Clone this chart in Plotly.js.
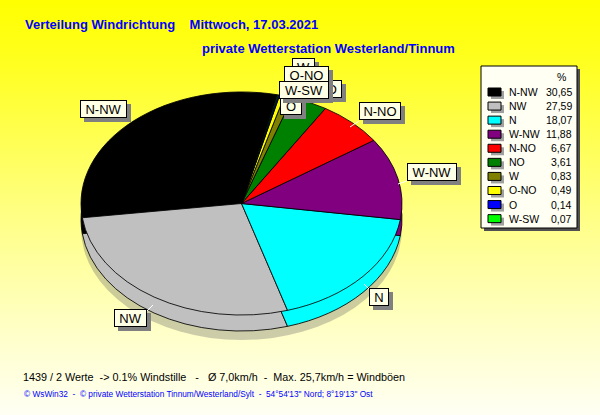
<!DOCTYPE html>
<html><head><meta charset="utf-8">
<script src="https://cdn.plot.ly/plotly-3.0.1.min.js"></script>
<style>
html,body{margin:0;padding:0;background:#fffff0;}
#chart{width:600px;height:415px;background:linear-gradient(to bottom,#ffff00 0%,#ffff20 15%,#ffff80 50%,#ffffc8 80%,#fffff4 100%);}
#chart .pielayer{transform-origin:241.5px 203.5px;transform:scaleY(0.695);}
</style></head><body><div id="chart"></div>
<script>
// ---- data ----
const directions = ['N-NW','NW','N','W-NW','N-NO','NO','W','O-NO','O','W-SW'];
const percents   = [30.65, 27.59, 18.07, 11.88, 6.67, 3.61, 0.83, 0.49, 0.14, 0.07];
const colors     = ['#000000','#c0c0c0','#00ffff','#800080','#ff0000','#008000','#808000','#ffff00','#0000ff','#00ff00'];
const valueLabels = percents.map(v => v.toFixed(2).replace('.', ','));

const titleText = 'Verteilung Windrichtung\u00a0\u00a0\u00a0 Mittwoch, 17.03.2021';
const subtitleText = 'private Wetterstation Westerland/Tinnum';
const infoText = '1439 / 2 Werte\u00a0 -> 0.1% Windstille\u00a0\u00a0 -\u00a0\u00a0 Ø 7,0km/h\u00a0 -\u00a0 Max. 25,7km/h = Windböen';
const footText = '© WsWin32\u00a0 -\u00a0 © private Wetterstation Tinnum/Westerland/Sylt\u00a0 -\u00a0 54°54\'13" Nord; 8°19\'13" Ost';

// ---- layout helpers (pixel geometry) ----
const W = 600, H = 415;
const cx = 241.5, cy = 203.5, R = 160.5;
const px = x => x / W, py = y => 1 - y / H;
function dom(off) {
  return { x: [px(cx - R), px(cx + R)], y: [py(cy + R + off), py(cy - R + off)] };
}
// first slice ends (clockwise side) 13 degrees right of 12 o'clock
const startAngle = 13;

// callout label positions (centre px, width)
const calloutPos = {
  'N-NW': [103.5, 109, 43], 'NW': [130.5, 318, 29], 'N': [379, 297, 16],
  'W-NW': [432, 171.5, 46], 'N-NO': [380, 111.5, 38],
  'W': [303.5, 67, 19], 'NO': [327, 88.5, 26], 'O-NO': [306.5, 75.5, 41],
  'O': [291, 106, 18], 'W-SW': [304, 90, 46]
};
const calloutOrder = ['N-NW','NW','N','W-NW','N-NO','W','NO','O-NO','O','W-SW'];

const pieBase = {
  type: 'pie', labels: directions, values: percents, sort: false,
  direction: 'counterclockwise', rotation: startAngle - percents[0] * 3.6, textinfo: 'none',
  hoverinfo: 'skip', showlegend: false,
  marker: { colors: colors, line: { color: '#000', width: 1 } }
};
const traces = [
  { type: 'pie', values: [1], labels: ['s'], sort: false, textinfo: 'none', hoverinfo: 'skip',
    showlegend: false, domain: dom(36),
    marker: { colors: ['rgba(110,110,110,0.35)'], line: { width: 0 } } },
  Object.assign({}, pieBase, { domain: dom(23) }),
  Object.assign({}, pieBase, { domain: dom(0) })
];

const font = 'Liberation Sans, Arial, sans-serif';
const annotations = [];
const shapes = [];
function txt(x, y, text, f, xa, ya) {
  annotations.push({ xref:'paper', yref:'paper', x: px(x), y: py(y), xanchor: xa || 'left', yanchor: ya || 'middle',
    showarrow:false, text: text, font: f });
}

// titles
txt(23, 25, '<b>'+titleText+'</b>', {family:font, size:13, color:'#0000ff'});
txt(200, 49, '<b>'+subtitleText+'</b>', {family:font, size:13, color:'#0000ff'});
txt(21, 377, infoText, {family:font, size:10.8, color:'#000'});
txt(22, 394, footText, {family:font, size:8.3, color:'#0000ff'});

// leader lines (white)
const leaders = [[147,311,153,305],[369,289,364,284],[407,181,398,184],[359,121,350,127]];
leaders.forEach(l => shapes.push({ type:'line', xref:'paper', yref:'paper', x0:px(l[0]), y0:py(l[1]), x1:px(l[2]), y1:py(l[3]), line:{color:'#ffffff', width:1} }));

// callouts with shadows
calloutOrder.forEach(name => {
  const p = calloutPos[name];
  annotations.push({ xref:'paper', yref:'paper', x:px(p[0]), y:py(p[1]), xanchor:'center', yanchor:'middle', xshift:4, yshift:-4,
    showarrow:false, text:'\u00a0', width:p[2], height:14, borderpad:1, borderwidth:1,
    bgcolor:'#808080', bordercolor:'#808080', font:{family:font, size:13, color:'#808080'} });
  annotations.push({ xref:'paper', yref:'paper', x:px(p[0]), y:py(p[1]), xanchor:'center', yanchor:'middle',
    showarrow:false, text:name, width:p[2], height:14, borderpad:1, borderwidth:1,
    bgcolor:'#ffffe6', bordercolor:'#000000', font:{family:font, size:13, color:'#000'} });
});

// custom legend box
shapes.push({ type:'rect', xref:'paper', yref:'paper', x0:px(484), x1:px(580), y0:py(69), y1:py(231), fillcolor:'#505050', line:{width:0} });
shapes.push({ type:'rect', xref:'paper', yref:'paper', x0:px(481), x1:px(577), y0:py(66), y1:py(228), fillcolor:'#fffff4', line:{color:'#000', width:1} });
txt(561, 77, '%', {family:font, size:10.5, color:'#000'}, 'center', 'middle');
directions.forEach((d, i) => {
  const ry = 92 + 14.07 * i;
  shapes.push({ type:'rect', xref:'paper', yref:'paper', x0:px(491), x1:px(504), y0:py(ry-1), y1:py(ry+7), fillcolor:'#a0a0a0', line:{width:0} });
  shapes.push({ type:'rect', xref:'paper', yref:'paper', x0:px(488), x1:px(501), y0:py(ry-4), y1:py(ry+4), fillcolor:colors[i], line:{color:'#000', width:1} });
  txt(507, ry, d, {family:font, size:10.5, color:'#000'}, 'left', 'middle');
  txt(574, ry, valueLabels[i], {family:font, size:10.5, color:'#000'}, 'right', 'middle');
});

const layout = {
  width: W, height: H, margin: { l:0, r:0, t:0, b:0 },
  paper_bgcolor: 'rgba(0,0,0,0)', plot_bgcolor: 'rgba(0,0,0,0)',
  showlegend: false, annotations: annotations, shapes: shapes
};
Plotly.newPlot('chart', traces, layout, { staticPlot: true, displayModeBar: false });
</script>
</body></html>
